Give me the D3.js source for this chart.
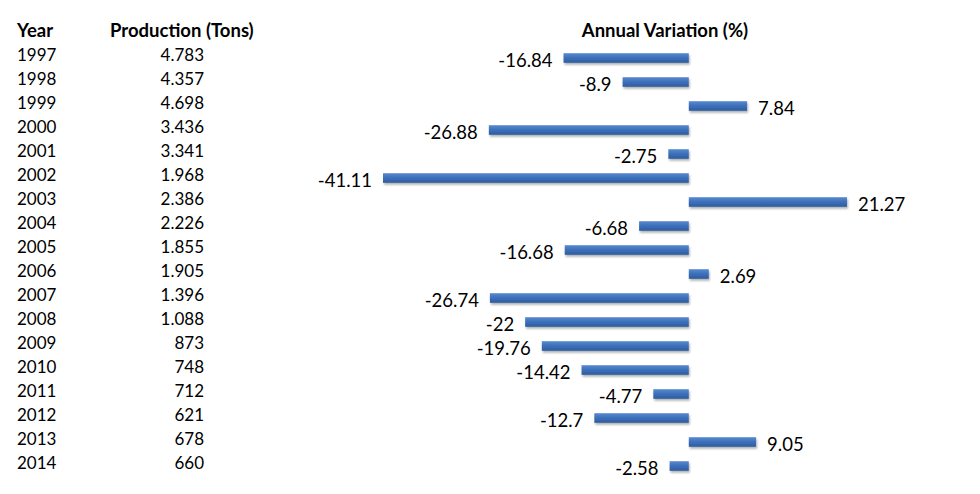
<!DOCTYPE html>
<html>
<head>
<meta charset="utf-8">
<script src="https://cdn.jsdelivr.net/npm/d3@7"></script>
<style>
  html, body { margin: 0; padding: 0; background: #ffffff; }
  svg { display: block; }
  text { font-family: Lato, "Open Sans", sans-serif; fill: #000; }
</style>
</head>
<body>
<svg id="chart" width="980" height="494"></svg>
<script>
const years = ["1997","1998","1999","2000","2001","2002","2003","2004","2005","2006","2007","2008","2009","2010","2011","2012","2013","2014"];
const production = ["4.783","4.357","4.698","3.436","3.341","1.968","2.386","2.226","1.855","1.905","1.396","1.088","873","748","712","621","678","660"];
const variation = [-16.84,-8.9,7.84,-26.88,-2.75,-41.11,21.27,-6.68,-16.68,2.69,-26.74,-22,-19.76,-14.42,-4.77,-12.7,9.05,-2.58];
const headers = ["Year", "Production (Tons)", "Annual Variation (%)"];

const svg = d3.select("#chart");
const defs = svg.append("defs");
const grad = defs.append("linearGradient").attr("id","barGrad").attr("x1",0).attr("y1",0).attr("x2",0).attr("y2",1);
grad.append("stop").attr("offset","0%").attr("stop-color","#5a8ad0");
grad.append("stop").attr("offset","45%").attr("stop-color","#3e72bd");
grad.append("stop").attr("offset","100%").attr("stop-color","#2c5b9c");
const filt = defs.append("filter").attr("id","shadow").attr("x","-10%").attr("y","-50%").attr("width","120%").attr("height","250%");
filt.append("feDropShadow").attr("dx",1).attr("dy",2).attr("stdDeviation",1.2).attr("flood-color","#000").attr("flood-opacity",0.3);

const y = d3.scaleBand().domain(years).range([46, 478]).paddingInner(0.6).paddingOuter(0.3);
const x = d3.scaleLinear().domain([d3.min(variation), d3.max(variation)]).range([383, 847]);

// headers
const hs = 18.5;
svg.append("text").attr("x",17).attr("y",36.5).attr("font-size",hs).attr("font-weight","bold").text(headers[0]);
svg.append("text").attr("x",110).attr("y",36.5).attr("font-size",hs).attr("font-weight","bold").text(headers[1]);
svg.append("text").attr("x",665).attr("y",36.5).attr("font-size",hs).attr("font-weight","bold").attr("text-anchor","middle").text(headers[2]);

const rowC = d => y(d) + y.bandwidth()/2;

// table columns
svg.append("g").selectAll("text").data(years).join("text")
  .attr("x",17).attr("y",d => rowC(d) + 2.5).attr("font-size",17).text(d => d);
svg.append("g").selectAll("text").data(years).join("text")
  .attr("x",204).attr("y",(d,i) => rowC(years[i]) + 2.5).attr("font-size",17).attr("text-anchor","end")
  .text((d,i) => production[i]);

// bars
const data = years.map((yr,i) => ({yr, v: variation[i]}));
svg.append("g").selectAll("rect").data(data).join("rect")
  .attr("x", d => x(Math.min(0,d.v)))
  .attr("y", d => y(d.yr))
  .attr("width", d => Math.abs(x(d.v) - x(0)))
  .attr("height", y.bandwidth())
  .attr("fill","url(#barGrad)")
  .attr("filter","url(#shadow)");

// bar labels
svg.append("g").selectAll("text").data(data).join("text")
  .attr("x", d => d.v < 0 ? x(d.v) - 11 : x(d.v) + 11)
  .attr("y", d => rowC(d.yr) + 9)
  .attr("font-size",18.5)
  .attr("text-anchor", d => d.v < 0 ? "end" : "start")
  .text(d => String(d.v));
</script>
</body>
</html>
